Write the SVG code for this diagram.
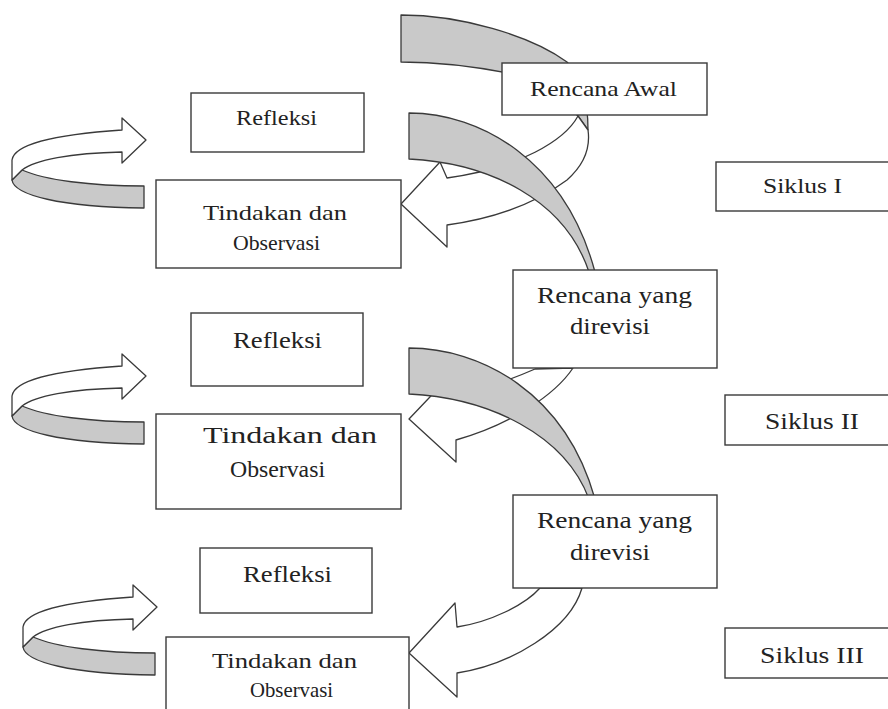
<svg xmlns="http://www.w3.org/2000/svg" width="888" height="709" viewBox="0 0 888 709">
<style>
.box{fill:#fff;stroke:#3a3a3a;stroke-width:1.4}
.g{fill:#c9c9c9;stroke:#3a3a3a;stroke-width:1.3;stroke-linejoin:round}
.w{fill:#fff;stroke:#3a3a3a;stroke-width:1.3;stroke-linejoin:round}
text{font-family:"Liberation Serif","Times New Roman",serif;fill:#222}
</style>
<rect width="888" height="709" fill="#fff"/>
<g id="connectors">
  <path class="g" d="M401,15 C460,15 530,35 567,62 C580,75 588,95 588,130 L578,116 L540,80 C490,68 440,62 401,62 Z"/>
  <path class="w" d="M578,116 C565,140 520,168 447,178 L440,162 L401,204 L447,247 L447,225 Q520,215 567,180 Q592,158 588,130 Z"/>
  <path class="g" d="M409,113 C480,113 565,160 595,272 L589,272 C565,200 490,163 409,159 Z"/>
  <path class="w" d="M535,369 C510,380 480,390 455,394 L448,378 L409,419 L456,462 L456,440 C510,425 555,395 573,368 Z"/>
  <path class="g" d="M409,348 C480,348 565,392 595,499 L589,499 C565,435 490,398 409,394 Z"/>
  <path class="w" d="M540,588 C525,605 490,622 457,627 L455,603 L409,653 L457,697 L457,673 C510,665 570,630 582,588 Z"/>
  <g id="loop1">
    <path class="g" d="M12,180 C14,195 60,207 144,208 L144,186 C90,186 45,180 22,170 Z"/>
    <path class="w" d="M122,118 L146,140 L122,163 L122,152 C70,153 35,160 22,170 L12,180 L12,160 C14,145 50,135 122,130 Z"/>
  </g>
  <g id="loop2" transform="translate(0,236)">
    <path class="g" d="M12,180 C14,195 60,207 144,208 L144,186 C90,186 45,180 22,170 Z"/>
    <path class="w" d="M122,118 L146,140 L122,163 L122,152 C70,153 35,160 22,170 L12,180 L12,160 C14,145 50,135 122,130 Z"/>
  </g>
  <g id="loop3" transform="translate(11,467)">
    <path class="g" d="M12,180 C14,195 60,207 144,208 L144,186 C90,186 45,180 22,170 Z"/>
    <path class="w" d="M122,118 L146,140 L122,163 L122,152 C70,153 35,160 22,170 L12,180 L12,160 C14,145 50,135 122,130 Z"/>
  </g>
</g>
<g id="rencana-awal">
  <rect class="box" x="502" y="63" width="205" height="52"/>
  <text x="530" y="96" font-size="21" textLength="147" lengthAdjust="spacingAndGlyphs">Rencana Awal</text>
</g>
<g id="refleksi-1">
  <rect class="box" x="191" y="93" width="173" height="59"/>
  <text x="236" y="125" font-size="21" textLength="81" lengthAdjust="spacingAndGlyphs">Refleksi</text>
</g>
<g id="tindakan-1">
  <rect class="box" x="156" y="180" width="245" height="88"/>
  <text x="203" y="220" font-size="21" textLength="144" lengthAdjust="spacingAndGlyphs">Tindakan dan</text>
  <text x="233" y="250" font-size="21" textLength="87" lengthAdjust="spacingAndGlyphs">Observasi</text>
</g>
<g id="rencana-direvisi-1">
  <rect class="box" x="513" y="270" width="204" height="98"/>
  <text x="537" y="303" font-size="24" textLength="155" lengthAdjust="spacingAndGlyphs">Rencana yang</text>
  <text x="570" y="334" font-size="24" textLength="80" lengthAdjust="spacingAndGlyphs">direvisi</text>
</g>
<g id="refleksi-2">
  <rect class="box" x="191" y="313" width="172" height="73"/>
  <text x="233" y="348" font-size="23" textLength="89" lengthAdjust="spacingAndGlyphs">Refleksi</text>
</g>
<g id="tindakan-2">
  <rect class="box" x="156" y="414" width="245" height="95"/>
  <text x="203" y="443" font-size="24" textLength="174" lengthAdjust="spacingAndGlyphs">Tindakan dan</text>
  <text x="230" y="477" font-size="24" textLength="95" lengthAdjust="spacingAndGlyphs">Observasi</text>
</g>
<g id="rencana-direvisi-2">
  <rect class="box" x="513" y="495" width="204" height="93"/>
  <text x="537" y="528" font-size="24" textLength="155" lengthAdjust="spacingAndGlyphs">Rencana yang</text>
  <text x="570" y="560" font-size="24" textLength="80" lengthAdjust="spacingAndGlyphs">direvisi</text>
</g>
<g id="refleksi-3">
  <rect class="box" x="200" y="548" width="172" height="65"/>
  <text x="243" y="582" font-size="23" textLength="89" lengthAdjust="spacingAndGlyphs">Refleksi</text>
</g>
<g id="tindakan-3">
  <rect class="box" x="166" y="637" width="243" height="85"/>
  <text x="212" y="668" font-size="22" textLength="145" lengthAdjust="spacingAndGlyphs">Tindakan dan</text>
  <text x="250" y="697" font-size="22" textLength="83" lengthAdjust="spacingAndGlyphs">Observasi</text>
</g>
<g id="siklus-1">
  <rect class="box" x="716" y="162" width="180" height="49"/>
  <text x="763" y="193" font-size="22" textLength="79" lengthAdjust="spacingAndGlyphs">Siklus I</text>
</g>
<g id="siklus-2">
  <rect class="box" x="725" y="395" width="170" height="50"/>
  <text x="765" y="429" font-size="23" textLength="94" lengthAdjust="spacingAndGlyphs">Siklus II</text>
</g>
<g id="siklus-3">
  <rect class="box" x="725" y="628" width="170" height="50"/>
  <text x="760" y="663" font-size="23" textLength="104" lengthAdjust="spacingAndGlyphs">Siklus III</text>
</g>
</svg>
